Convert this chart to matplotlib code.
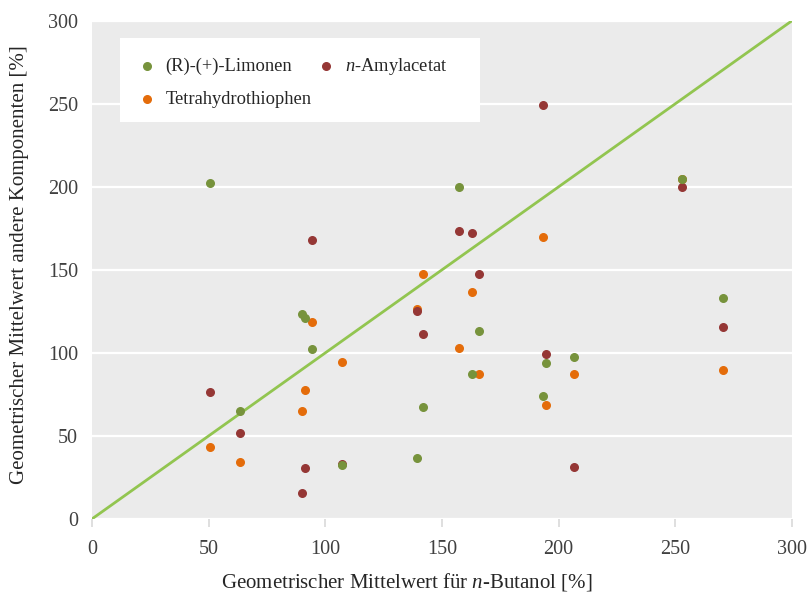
import matplotlib
matplotlib.use("Agg")
import matplotlib.pyplot as plt
from matplotlib.patches import Rectangle

plt.rcParams['font.family'] = ['Liberation Serif', 'DejaVu Serif']
plt.rcParams['mathtext.fontset'] = 'custom'
plt.rcParams['mathtext.rm'] = 'Liberation Serif'
plt.rcParams['mathtext.it'] = 'Liberation Serif:italic'

# Geometrischer Mittelwert n-Butanol (x) und andere Komponenten (y)
butanol = [50.6, 63.5, 90.1, 91.4, 94.4, 107.3, 139.5, 142.0,
           157.5, 163.0, 166.0, 193.1, 194.8, 206.4, 252.8, 270.4]
limonen = [202.4, 65.0, 123.5, 121.0, 102.4, 32.5, 36.7, 67.5,
           200.0, 87.3, 113.3, 74.0, 94.0, 97.6, 204.8, 133.0]
amylacetat = [76.5, 51.8, 15.7, 30.7, 168.0, 33.0, 125.3, 111.4,
              173.5, 172.3, 147.6, 249.4, 99.4, 31.3, 200.0, 115.7]
thiophen = [43.4, 34.3, 65.0, 77.7, 118.7, 94.6, 126.5, 147.6,
            103.0, 136.7, 87.3, 169.9, 68.7, 87.3, 205.0, 89.8]
diag = [0, 300]

c_lim = '#77933c'
c_amy = '#953735'
c_thi = '#e46c0a'

fig = plt.figure(figsize=(8.08, 5.95), dpi=100)
ax = fig.add_axes([0.114, 0.128, 0.866, 0.837])
ax.set_facecolor('#ebebeb')

ax.plot(diag, diag, color='#92c550', lw=2, zorder=2)
h_thi = ax.scatter(butanol, thiophen, s=30, color=c_thi, zorder=3, label='Tetrahydrothiophen')
h_amy = ax.scatter(butanol, amylacetat, s=30, color=c_amy, zorder=4, label='$\\mathit{n}$-Amylacetat')
h_lim = ax.scatter(butanol, limonen, s=30, color=c_lim, zorder=5, label='(R)-(+)-Limonen')

ax.set_xlim(0, 300)
ax.set_ylim(0, 300)
ax.set_xticks(range(0, 301, 50))
ax.set_yticks(range(0, 301, 50))
ax.grid(axis='y', color='white', lw=1.6)
ax.set_axisbelow(True)
for s in ax.spines.values():
    s.set_visible(False)
ax.tick_params(axis='x', length=6, width=1.2, color='#d9d9d9', pad=9,
               labelsize=14.5, labelcolor='#404040')
ax.tick_params(axis='y', length=0, pad=10, labelsize=14.5, labelcolor='#404040')

ax.set_xlabel('Geometrischer Mittelwert für $\\mathit{n}$-Butanol [%]',
              fontsize=15, color='#262626')
ax.xaxis.set_label_coords(0.45, -0.105)
ax.set_ylabel('Geometrischer Mittelwert andere Komponenten [%]',
              fontsize=15, color='#262626')
ax.yaxis.set_label_coords(-0.09, 0.51)

# white legend box
ax.add_patch(Rectangle((0.04, 0.797), 0.514, 0.169, transform=ax.transAxes,
                       facecolor='white', edgecolor='none', zorder=6))
leg = ax.legend(handles=[h_lim, h_thi, h_amy], ncol=2, loc='upper left',
                bbox_to_anchor=(0.065, 0.929), frameon=False,
                fontsize=13.3, handletextpad=0.5, columnspacing=0.3,
                borderpad=0, labelspacing=0.85, markerscale=1.0,
                handlelength=1.0, borderaxespad=0)
leg.set_zorder(7)
for t in leg.get_texts():
    t.set_color('#262626')

fig.savefig('out.png', dpi=100)
